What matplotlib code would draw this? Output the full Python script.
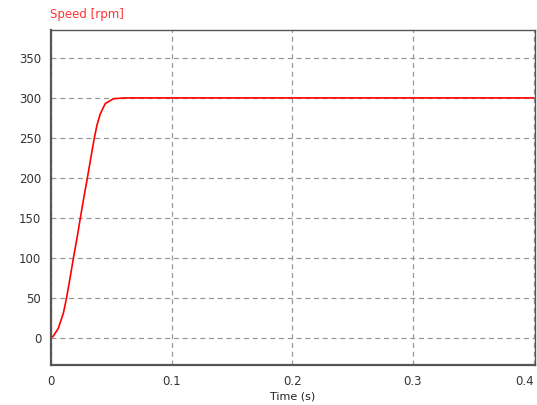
import numpy as np
import matplotlib
matplotlib.use("Agg")
import matplotlib.pyplot as plt

# speed response
t = [0.0, 0.0019, 0.006, 0.0102, 0.0129, 0.0157, 0.0185, 0.0218, 0.024,
     0.0268, 0.0298, 0.0339, 0.0358, 0.0381, 0.0408, 0.045,
     0.0518, 0.0615, 0.1, 0.2, 0.3, 0.4]
speed = [0, 2, 11.7, 30.5, 50, 74, 99, 127, 147,
         172, 197, 233, 249, 266, 280, 293,
         299, 300, 300, 300, 300, 300]

xticks = [0, 0.1, 0.2, 0.3, 0.4]
xticklabels = ["0", "0.1", "0.2", "0.3", "0.4"]
yticks = [0, 50, 100, 150, 200, 250, 300, 350]

fig = plt.figure(figsize=(5.37, 4.05), dpi=100)
ax = fig.add_axes([0.095, 0.099, 0.901, 0.827])

ax.plot(t, speed, color="#ff0000", linewidth=1.2)

ax.set_xlim(0, 0.401)
ax.set_ylim(-34, 385)
ax.set_xticks(xticks)
ax.set_xticklabels(xticklabels)
ax.set_yticks(yticks)
ax.tick_params(length=0, labelsize=8.5, colors="#333333", pad=7)
ax.get_xticklabels()[-1].set_horizontalalignment("right")
ax.grid(True, color="#999999", linestyle=(0, (4, 3)), linewidth=0.9)

for side in ["left", "bottom"]:
    ax.spines[side].set_linewidth(1.6)
    ax.spines[side].set_color("#555555")
for side in ["top", "right"]:
    ax.spines[side].set_linewidth(1.0)
    ax.spines[side].set_color("#555555")

ax.set_xlabel("Time (s)", fontsize=8, color="#222222", labelpad=3)
fig.text(0.093, 0.948, "Speed [rpm]", color="#ff3333", fontsize=8.5,
         ha="left", va="bottom")

fig.savefig("out.png", dpi=100)
